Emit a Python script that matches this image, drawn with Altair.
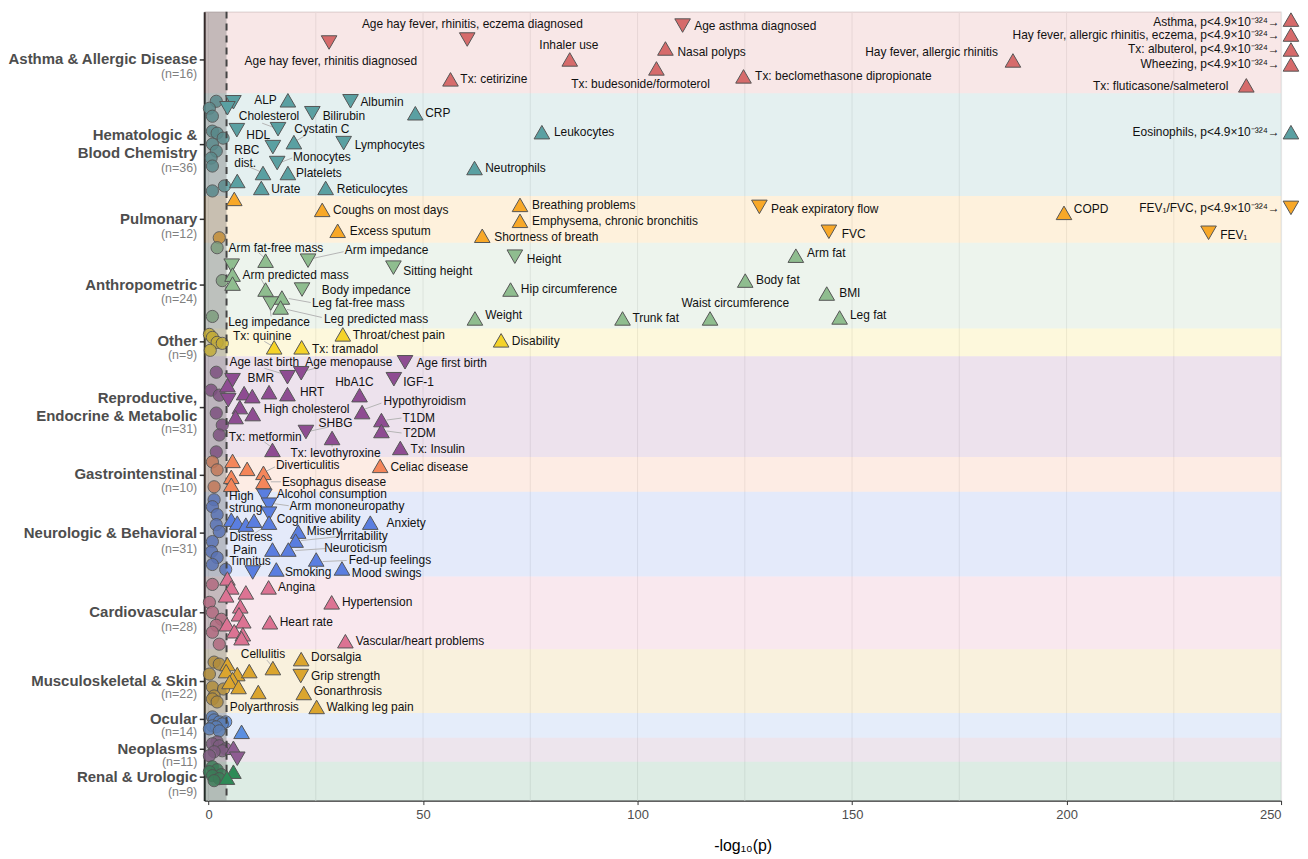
import altair as alt
import pandas as pd

FONT = "Liberation Sans"

CATS = ["Asthma", "Hemato", "Pulmonary", "Anthro", "Other", "Repro", "Gastro",
        "Neuro", "Cardio", "Musculo", "Ocular", "Neoplasms", "Renal"]
CAT_COLORS = ["#D66B6B", "#5AA0A2", "#F8A828", "#8FBD8F", "#F5D328", "#8E4C92", "#F4865A",
              "#5A7EE0", "#DC7393", "#DBA52E", "#5B8FE0", "#8E5C92", "#2E8B57"]
CAT_N = ["(n=16)", "(n=36)", "(n=12)", "(n=24)", "(n=9)", "(n=31)", "(n=10)",
         "(n=31)", "(n=28)", "(n=22)", "(n=14)", "(n=11)", "(n=9)"]
BAND_TOP = [10, 92, 195, 242, 328, 356, 457, 492, 577, 650, 714, 739, 763]
BAND_BOTTOM = [92, 195, 242, 328, 356, 457, 492, 577, 650, 714, 739, 763, 802]
TICK_Y = [58, 143, 218, 284, 341, 407, 475, 533, 613, 682, 720, 750, 778]
N_LABEL_Y = [73, 167, 233, 299, 355, 429, 488, 549, 628, 695, 733, 763, 793]
CAT_NAME_LINES = [("Asthma & Allergic Disease", 58), ("Hematologic &", 134), ("Blood Chemistry", 152),
                  ("Pulmonary", 218), ("Anthropometric", 284), ("Other", 341),
                  ("Reproductive,", 398), ("Endocrine & Metabolic", 416), ("Gastrointenstinal", 474),
                  ("Neurologic & Behavioral", 533), ("Cardiovascular", 613),
                  ("Musculoskeletal & Skin", 682), ("Ocular", 720), ("Neoplasms", 750),
                  ("Renal & Urologic", 778)]

THRESHOLD = 4.2
X_TICKS = [0, 50, 100, 150, 200, 250]
GRID_X = [0, 25, 50, 75, 100, 125, 150, 175, 200, 225, 250]

# significant associations: (x = -log10 p, y = jitter row, direction)
TRI_ASTHMA = [(60.3, 38, "down"), (110.5, 24, "down"), (28.1, 41, "down"), (84.2, 58, "up"),
              (106.5, 47, "up"), (56.4, 78, "up"), (104.4, 67, "up"), (124.7, 75, "up"),
              (187.5, 59, "up"), (252.3, 18, "up"), (252.3, 33, "up"), (252.3, 48, "up"),
              (252.3, 63, "up"), (241.9, 84, "up")]
TRI_HEMATO = [(18.5, 99, "up"), (33.1, 100, "down"), (5.8, 101, "down"), (4.4, 107, "down"),
              (16.2, 128, "down"), (24.2, 112, "down"), (48.2, 112, "up"), (6.6, 129, "down"),
              (15.0, 146, "down"), (19.9, 141, "up"), (31.5, 142, "down"), (12.7, 172, "up"),
              (16.0, 162, "down"), (18.5, 172, "up"), (6.7, 180, "up"), (12.3, 187, "up"),
              (27.3, 187, "up"), (77.7, 131, "up"), (62.0, 167, "up"), (252.3, 131, "up")]
TRI_PULM = [(6.0, 198, "up"), (26.5, 209, "up"), (30.1, 230, "up"), (72.6, 204, "up"),
            (72.6, 220, "up"), (63.8, 235, "up"), (128.4, 206, "down"), (144.6, 231, "down"),
            (199.4, 212, "up"), (252.3, 207, "down"), (233.1, 232, "down")]
TRI_ANTHRO = [(5.4, 265, "down"), (5.6, 274, "up"), (5.6, 283, "up"), (13.3, 260, "up"),
              (23.2, 260, "down"), (43.1, 267, "down"), (13.3, 289, "up"), (21.8, 289, "down"),
              (17.1, 297, "up"), (14.5, 303, "down"), (16.8, 307, "up"), (71.4, 256, "down"),
              (70.4, 289, "up"), (62.1, 318, "up"), (96.5, 318, "up"), (116.9, 318, "up"),
              (125.1, 280, "up"), (136.9, 255, "up"), (144.1, 293, "up"), (147.1, 317, "up")]
TRI_OTHER = [(15.3, 347, "up"), (21.7, 347, "up"), (31.3, 334, "up"), (68.2, 340, "up")]
TRI_REPRO = [(18.4, 377, "down"), (21.6, 373, "down"), (45.8, 362, "down"), (43.2, 379, "down"),
             (14.1, 392, "up"), (18.4, 394, "up"), (35.2, 395, "up"), (35.8, 412, "up"),
             (10.3, 414, "up"), (40.3, 420, "up"), (40.3, 431, "up"), (22.7, 432, "down"),
             (14.9, 450, "up"), (28.8, 438, "up"), (44.7, 448, "up"), (5.6, 380, "down"),
             (4.4, 385, "up"), (8.3, 393, "up"), (10.2, 396, "up"), (4.6, 400, "down"),
             (7.3, 407, "up"), (6.3, 417, "up")]
TRI_GASTRO = [(5.6, 461, "up"), (9.0, 469, "up"), (12.8, 473, "up"), (5.3, 477, "up"),
              (5.3, 485, "up"), (12.8, 482, "up"), (40.0, 466, "up")]
TRI_NEURO = [(13.0, 496, "down"), (14.1, 505, "down"), (14.1, 514, "down"), (14.1, 523, "up"),
             (5.3, 520, "up"), (6.7, 523, "up"), (8.7, 525, "up"), (10.6, 521, "up"),
             (37.7, 523, "up"), (20.9, 532, "up"), (20.3, 541, "up"), (14.9, 550, "up"),
             (18.6, 550, "up"), (10.3, 573, "down"), (15.8, 570, "up"), (25.1, 560, "up"),
             (31.1, 569, "up")]
TRI_CARDIO = [(4.4, 579, "up"), (5.3, 588, "up"), (4.1, 596, "up"), (8.7, 593, "up"),
              (14.0, 588, "up"), (28.7, 603, "up"), (7.4, 607, "up"), (7.1, 615, "up"),
              (8.1, 622, "up"), (4.3, 625, "up"), (6.0, 632, "up"), (8.0, 635, "up"),
              (7.7, 639, "up"), (14.3, 623, "up"), (31.9, 642, "up")]
TRI_MUSCULO = [(15.0, 669, "up"), (21.6, 660, "up"), (21.5, 677, "down"), (22.2, 694, "up"),
               (25.2, 708, "up"), (11.6, 693, "up"), (4.4, 665, "up"), (4.1, 672, "up"),
               (6.7, 675, "up"), (9.5, 672, "up"), (5.6, 680, "up"), (4.9, 683, "up"),
               (7.0, 688, "up")]
TRI_OCULAR = [(7.7, 733, "up")]
TRI_NEOPLASMS = [(5.8, 749, "up"), (6.7, 760, "down")]
TRI_RENAL = [(5.8, 773, "up"), (4.3, 779, "up")]
TRIANGLES = [TRI_ASTHMA, TRI_HEMATO, TRI_PULM, TRI_ANTHRO, TRI_OTHER, TRI_REPRO, TRI_GASTRO,
             TRI_NEURO, TRI_CARDIO, TRI_MUSCULO, TRI_OCULAR, TRI_NEOPLASMS, TRI_RENAL]

# non-significant associations (x, y)
CIR_HEMATO = [(1.8, 100), (0.2, 107), (0.9, 115), (0.9, 130), (2.0, 132), (3.4, 137), (0.9, 143),
              (1.8, 150), (0.6, 157), (0.9, 165), (3.7, 185), (0.9, 190)]
CIR_PULM = [(2.5, 237)]
CIR_ANTHRO = [(2.0, 247), (3.2, 280), (0.9, 316)]
CIR_OTHER = [(0.2, 334), (0.9, 337), (2.0, 342), (3.2, 343), (0.4, 350)]
CIR_REPRO = [(1.8, 372), (0.6, 390), (2.5, 395), (1.8, 413), (3.2, 425), (2.5, 435), (1.8, 452)]
CIR_GASTRO = [(0.9, 462), (2.0, 470), (1.3, 487)]
CIR_NEURO = [(1.3, 500), (0.9, 507), (2.0, 515), (1.8, 525), (2.5, 532), (0.9, 542), (0.7, 552),
             (2.0, 558), (0.9, 565), (4.0, 570)]
CIR_CARDIO = [(0.9, 585), (0.2, 603), (0.9, 613), (3.0, 620), (1.8, 626), (0.9, 633), (2.5, 645)]
CIR_MUSCULO = [(1.3, 663), (2.5, 665), (0.2, 675), (0.9, 688), (3.5, 690), (1.3, 697), (0.9, 700),
               (2.0, 703)]
CIR_OCULAR = [(0.9, 718), (1.3, 721), (2.5, 723), (4.0, 723), (3.2, 725), (0.9, 727), (1.8, 728),
              (0.2, 730), (2.5, 732)]
CIR_NEOPLASMS = [(2.0, 743), (0.9, 745), (2.5, 747), (4.0, 750), (3.2, 752), (1.3, 753), (0.2, 757)]
CIR_RENAL = [(0.9, 768), (2.0, 771), (0.2, 773), (3.0, 776), (0.9, 777), (2.5, 780), (1.3, 782)]
CIRCLES = [[], CIR_HEMATO, CIR_PULM, CIR_ANTHRO, CIR_OTHER, CIR_REPRO, CIR_GASTRO, CIR_NEURO,
           CIR_CARDIO, CIR_MUSCULO, CIR_OCULAR, CIR_NEOPLASMS, CIR_RENAL]

P = ", p<4.9×10⁻³²⁴→"
LABELS_RIGHT = [("Asthma" + P, 249.7, 20), ("Hay fever, allergic rhinitis, eczema" + P, 249.7, 33),
                ("Tx: albuterol" + P, 249.7, 48), ("Wheezing" + P, 249.7, 63),
                ("Tx: fluticasone/salmeterol", 237.7, 85), ("Hay fever, allergic rhinitis", 184.0, 51),
                ("Eosinophils" + P, 249.7, 131), ("FEV₁/FVC" + P, 249.7, 207),
                ("ALP", 15.9, 99), ("Pain", 11.3, 550)]
LABELS_CENTER = [("Age hay fever, rhinitis, eczema diagnosed", 61.5, 22),
                 ("Age hay fever, rhinitis diagnosed", 28.5, 60), ("Inhaler use", 84.0, 44),
                 ("Tx: budesonide/formoterol", 100.7, 83), ("Cholesterol", 14.1, 115),
                 ("Cystatin C", 26.4, 128), ("Arm fat-free mass", 15.7, 247),
                 ("Arm impedance", 41.5, 249), ("Arm predicted mass", 20.3, 274),
                 ("Leg impedance", 14.1, 322), ("Waist circumference", 122.8, 303),
                 ("Tx: quinine", 12.5, 336), ("Age last birth", 13.0, 362),
                 ("Age menopause", 32.7, 362), ("BMR", 12.2, 378), ("HbA1C", 34.0, 382),
                 ("SHBG", 29.6, 423), ("Tx: metformin", 13.2, 437),
                 ("Tx: levothyroxine", 29.6, 453), ("Irritability", 36.2, 536),
                 ("Distress", 9.9, 537), ("Neuroticism", 34.3, 548), ("Tinnitus", 9.7, 562),
                 ("Cellulitis", 12.7, 655), ("Polyarthrosis", 13.0, 708)]
LABELS_LEFT = [("Age asthma diagnosed", 113.2, 24), ("Nasal polyps", 109.3, 51),
               ("Tx: cetirizine", 58.7, 78), ("Tx: beclomethasone dipropionate", 127.4, 75),
               ("Albumin", 35.4, 101), ("Bilirubin", 26.6, 115), ("CRP", 50.5, 112),
               ("HDL", 8.8, 134), ("Lymphocytes", 34.1, 144), ("RBC", 6.0, 149),
               ("dist.", 6.0, 162), ("Monocytes", 19.7, 156), ("Platelets", 20.4, 172),
               ("Urate", 14.6, 188), ("Reticulocytes", 29.9, 188), ("Leukocytes", 80.5, 131),
               ("Neutrophils", 64.5, 167), ("Coughs on most days", 29.0, 209),
               ("Excess sputum", 32.9, 230), ("Breathing problems", 75.4, 204),
               ("Emphysema, chronic bronchitis", 75.4, 220), ("Shortness of breath", 66.6, 236),
               ("Peak expiratory flow", 131.1, 208), ("FVC", 147.6, 233), ("COPD", 201.7, 208),
               ("FEV₁", 235.8, 234), ("Sitting height", 45.4, 270), ("Body impedance", 26.4, 289),
               ("Leg fat-free mass", 24.1, 303), ("Leg predicted mass", 26.9, 319),
               ("Height", 74.2, 258), ("Hip circumference", 72.8, 288), ("Weight", 64.5, 315),
               ("Trunk fat", 98.8, 318), ("Body fat", 127.6, 279), ("Arm fat", 139.5, 252),
               ("BMI", 147.0, 292), ("Leg fat", 149.5, 315), ("Tx: tramadol", 24.1, 349),
               ("Throat/chest pain", 33.6, 335), ("Disability", 70.7, 341),
               ("Age first birth", 48.5, 363), ("IGF-1", 45.4, 382), ("HRT", 21.3, 392),
               ("Hypothyroidism", 40.8, 401), ("High cholesterol", 12.9, 409),
               ("T1DM", 45.2, 418), ("T2DM", 45.4, 433), ("Tx: Insulin", 47.1, 449),
               ("Diverticulitis", 15.7, 465), ("Esophagus disease", 17.1, 482),
               ("Celiac disease", 42.4, 467), ("High", 4.8, 496), ("strung", 4.8, 508),
               ("Alcohol consumption", 15.9, 494), ("Arm mononeuropathy", 18.9, 506.5),
               ("Cognitive ability", 15.9, 519), ("Anxiety", 41.5, 523), ("Misery", 22.9, 531.5),
               ("Smoking", 17.8, 573), ("Fed-up feelings", 32.7, 561), ("Mood swings", 33.4, 574),
               ("Angina", 16.2, 588), ("Hypertension", 31.1, 603), ("Heart rate", 16.6, 623),
               ("Vascular/heart problems", 34.3, 642), ("Dorsalgia", 23.9, 658),
               ("Grip strength", 23.9, 677), ("Gonarthrosis", 24.5, 692),
               ("Walking leg pain", 27.5, 708)]
CONNECTORS = [(12.5, 122, 15.7, 127), (13.7, 138, 15.0, 144), (19.9, 141, 22.7, 134),
              (9.5, 166, 12.3, 171), (19.5, 157, 17.0, 161),
              (11.7, 252, 13.0, 257), (31.5, 251, 24.0, 258), (12.2, 278, 13.1, 285),
              (23.8, 302, 18.7, 298), (14.6, 316, 14.3, 307), (26.4, 317, 18.3, 309),
              (13.0, 341, 14.6, 345), (13.0, 368, 17.6, 374), (25.7, 367, 22.3, 371),
              (40.3, 403, 36.4, 409), (45.0, 418, 41.5, 420), (45.0, 433, 41.5, 431),
              (28.0, 427, 23.8, 431), (13.0, 442, 14.3, 446), (28.8, 443, 28.8, 447),
              (15.5, 467, 13.6, 471), (16.9, 482, 14.5, 482), (11.9, 509, 13.5, 513),
              (18.7, 506, 15.3, 504), (30.4, 537, 21.5, 541), (10.6, 534, 13.2, 527),
              (27.3, 549, 20.2, 551), (32.2, 561, 26.6, 562), (13.6, 661, 14.6, 666)]

# ---------------- tables ----------------
tri_df = pd.DataFrame([{"cat": CATS[i], "x": x, "y": y, "dir": d}
                       for i, lst in enumerate(TRIANGLES) for (x, y, d) in lst])
cir_df = pd.DataFrame([{"cat": CATS[i], "x": x, "y": y}
                       for i, lst in enumerate(CIRCLES) for (x, y) in lst])
band_df = pd.DataFrame({"cat": CATS, "top": BAND_TOP, "bottom": BAND_BOTTOM,
                        "x0": [-1] * len(CATS), "x1": [250] * len(CATS)})
grid_df = pd.DataFrame({"x": GRID_X})
shade_df = pd.DataFrame({"x0": [-1], "x1": [THRESHOLD], "top": [10], "bottom": [802]})
thr_df = pd.DataFrame({"x": [THRESHOLD]})
con_df = pd.DataFrame(CONNECTORS, columns=["x1", "y1", "x2", "y2"])
labL = pd.DataFrame(LABELS_LEFT, columns=["t", "x", "y"])
labC = pd.DataFrame(LABELS_CENTER, columns=["t", "x", "y"])
labR = pd.DataFrame(LABELS_RIGHT, columns=["t", "x", "y"])
catname_df = pd.DataFrame(CAT_NAME_LINES, columns=["t", "y"])
n_df = pd.DataFrame({"t": CAT_N, "y": N_LABEL_Y})

W, H = 1081, 792
xscale = alt.Scale(domain=[-1, 250], nice=False, zero=False)
yscale = alt.Scale(domain=[10, 802], nice=False, zero=False, reverse=True)
xaxis = alt.Axis(values=X_TICKS, grid=False, title="-log₁₀(p)", labelFont=FONT, labelFontSize=13,
                 labelColor="#4d4d4d", titleFont=FONT, titleFontSize=16, titleFontWeight="normal",
                 titleColor="#000000", titlePadding=16, domainColor="#333333", domainWidth=1.2,
                 tickColor="#333333", tickSize=4, labelPadding=4)
yaxis = alt.Axis(values=TICK_Y, labels=False, grid=False, title=None, domainColor="#111111",
                 domainWidth=2, tickColor="#333333", tickSize=5, tickWidth=1.5)
fill_scale = alt.Scale(domain=CATS, range=CAT_COLORS)

X = lambda f: alt.X(f, type="quantitative", scale=xscale, axis=xaxis)
Y = lambda f: alt.Y(f, type="quantitative", scale=yscale, axis=yaxis)

grid = alt.Chart(grid_df).mark_rule(color="#ececec", strokeWidth=1).encode(x=X("x"))
bands = alt.Chart(band_df).mark_rect(opacity=0.16).encode(
    x=X("x0"), x2="x1", y=Y("top"), y2="bottom",
    fill=alt.Fill("cat:N", scale=fill_scale, legend=None))
circles = alt.Chart(cir_df).mark_point(shape="circle", filled=True, size=150, opacity=0.85,
                                       stroke="#4a4a4a", strokeWidth=1).encode(
    x=X("x"), y=Y("y"), fill=alt.Fill("cat:N", scale=fill_scale, legend=None))
shade = alt.Chart(shade_df).mark_rect(fill="#5a5a5a", opacity=0.33).encode(
    x=X("x0"), x2="x1", y=Y("top"), y2="bottom")
thr = alt.Chart(thr_df).mark_rule(color="#444444", strokeWidth=2, strokeDash=[7, 5]).encode(x=X("x"))
cons = alt.Chart(con_df).mark_rule(color="#b5b5b5", strokeWidth=1).encode(
    x=X("x1"), y=Y("y1"), x2="x2", y2="y2")
tris = alt.Chart(tri_df).mark_point(filled=True, size=245, opacity=1, stroke="#555555",
                                    strokeWidth=1).encode(
    x=X("x"), y=Y("y"), fill=alt.Fill("cat:N", scale=fill_scale, legend=None),
    shape=alt.Shape("dir:N", scale=alt.Scale(domain=["up", "down"],
                                             range=["triangle-up", "triangle-down"]), legend=None))


def texts(df, align):
    return alt.Chart(df).mark_text(align=align, baseline="middle", font=FONT, fontSize=12,
                                   color="#111111").encode(x=X("x"), y=Y("y"), text="t:N")


catnames = alt.Chart(catname_df).mark_text(align="right", baseline="middle", font=FONT,
                                           fontSize=15, fontWeight="bold", color="#4d4d4d").encode(
    x=alt.value(-7), y=Y("y"), text="t:N")
nlabels = alt.Chart(n_df).mark_text(align="right", baseline="middle", font=FONT, fontSize=12.5,
                                    color="#7f7f7f").encode(x=alt.value(-7), y=Y("y"), text="t:N")

chart = alt.layer(grid, bands, circles, shade, thr, cons, tris,
                  texts(labL, "left"), texts(labC, "center"), texts(labR, "right"),
                  catnames, nlabels).properties(
    width=W, height=H,
    autosize=alt.AutoSizeParams(type="none"),
    padding={"left": 197, "top": 2, "right": 19, "bottom": 55},
).configure_view(stroke=None).configure(background="white")

chart.save("out.html", embed_options={"renderer": "svg", "actions": False})
